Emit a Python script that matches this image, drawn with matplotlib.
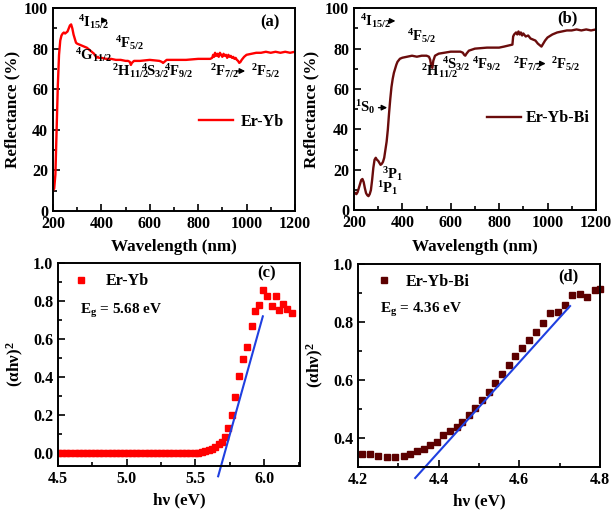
import matplotlib
matplotlib.use('Agg')
import matplotlib.pyplot as plt
from matplotlib.ticker import MultipleLocator, FormatStrFormatter

plt.rcParams['font.family'] = ['Liberation Serif', 'DejaVu Serif']
plt.rcParams['font.weight'] = 'bold'
plt.rcParams['mathtext.fontset'] = 'custom'
plt.rcParams['mathtext.rm'] = 'Liberation Serif:bold'
plt.rcParams['mathtext.it'] = 'Liberation Serif:bold'
plt.rcParams['mathtext.bf'] = 'Liberation Serif:bold'

# reflectance spectra (a) Er-Yb
wl_a = [200, 205, 210, 215, 220, 225, 230, 235, 240, 245, 250, 255, 260, 265, 270, 275, 280,
        285, 290, 295, 300, 310, 320, 330, 340, 350, 360, 370, 375, 380, 385, 390, 400, 420,
        440, 460, 480, 500, 510, 518, 522, 526, 535, 560, 600, 640, 650, 655, 660, 670, 700,
        750, 800, 850, 858, 862, 866, 870, 875, 880, 885, 890, 895, 900, 905, 910, 915, 920,
        925, 930, 935, 940, 945, 950, 955, 960, 965, 970, 975, 980, 990, 1000, 1020, 1040,
        1060, 1080, 1100, 1120, 1140, 1160, 1180, 1200]
refl_a = [10, 11, 18, 40, 62, 77, 84, 86.5, 87.5, 88, 87.5, 88, 88.5, 90, 91.5, 92, 90,
          87, 85, 83, 82.5, 82, 81.5, 81, 80.5, 79.5, 78.5, 77.5, 76.5, 75.5, 76, 75.5, 75.5, 75,
          75, 74.5, 74.5, 74, 74, 73.5, 72, 73, 74, 74, 74.5, 74, 73.5, 73, 73.5, 74.5, 74.5,
          74.5, 75, 75, 75.5, 77, 76, 78, 76.5, 77.5, 76, 78, 77, 76, 77.5, 76.5, 77, 75.5,
          77, 76, 76.5, 75.5, 76, 75, 75.5, 74.5, 74, 73, 73.5, 74.5, 76, 77, 77.5, 78,
          78, 78.5, 78, 78.5, 78, 78.5, 78, 78.5]

# reflectance spectra (b) Er-Yb-Bi
wl_b = [200, 205, 210, 215, 220, 225, 230, 235, 240, 245, 250, 255, 260, 265, 270, 275, 280,
        285, 290, 295, 300, 305, 310, 315, 320, 325, 330, 335, 340, 345, 350, 355, 360, 365,
        370, 375, 380, 390, 400, 420, 440, 460, 480, 500, 510, 515, 520, 524, 528, 535, 550,
        575, 600, 640, 650, 655, 660, 665, 675, 700, 750, 800, 820, 855, 858, 862, 870, 875,
        880, 885, 890, 895, 900, 910, 920, 930, 940, 950, 960, 970, 975, 980, 990, 1000,
        1020, 1040, 1060, 1080, 1100, 1120, 1140, 1160, 1180, 1200]
refl_b = [9, 8.5, 8, 9, 11, 13, 15, 15.5, 14, 11, 8.5, 7.5, 7, 8, 10, 15, 21,
          25, 26, 25, 24.5, 23.5, 22.5, 23, 24, 26, 30, 34, 40, 48, 55, 61, 65, 68,
          70, 72, 73.5, 75, 75.5, 76, 76.5, 76, 76.5, 76.5, 76, 74.5, 71, 70.5, 74, 76.5, 77.5,
          78, 78.5, 78.5, 78, 77, 76.5, 77.5, 79, 80, 80.5, 80.5, 81, 82, 86, 87, 88, 87,
          88.5, 87, 88, 86.5, 87.5, 86, 86.5, 85, 84.5, 84, 82.5, 81.5, 81, 82, 84, 85.5,
          87, 88, 88.5, 89, 89, 89.5, 89, 89.5, 89, 89.5]

# Tauc plot (c) Er-Yb
hv_c = [4.50, 4.53, 4.56, 4.59, 4.62, 4.65, 4.68, 4.71, 4.74, 4.77, 4.80, 4.83, 4.86, 4.89,
        4.92, 4.95, 4.98, 5.01, 5.04, 5.07, 5.10, 5.13, 5.16, 5.19, 5.22, 5.25, 5.28, 5.31,
        5.34, 5.37, 5.40, 5.43, 5.46, 5.495, 5.52, 5.545, 5.57, 5.595, 5.62, 5.645, 5.668,
        5.69, 5.715, 5.74, 5.765, 5.79, 5.82, 5.848, 5.877, 5.909, 5.933, 5.964, 5.993,
        6.022, 6.054, 6.083, 6.109, 6.138, 6.168, 6.200]
ahv_c = [0, 0, 0, 0, 0, 0, 0, 0, 0, 0, 0, 0, 0, 0,
         0, 0, 0, 0, 0, 0, 0, 0, 0, 0, 0, 0, 0, 0,
         0, 0, 0.001, 0.001, 0.002, 0.003, 0.004, 0.007, 0.011, 0.017, 0.025, 0.035, 0.047,
         0.062, 0.088, 0.135, 0.20, 0.295, 0.407, 0.494, 0.559, 0.668, 0.748, 0.778, 0.860,
         0.826, 0.774, 0.826, 0.755, 0.787, 0.760, 0.739]
fit_c_x = [5.665, 5.99]
fit_c_y = [-0.12, 0.72]

# Tauc plot (d) Er-Yb-Bi
hv_d = [4.209, 4.23, 4.25, 4.271, 4.292, 4.313, 4.33, 4.346, 4.363, 4.379, 4.396, 4.412,
        4.429, 4.446, 4.458, 4.475, 4.491, 4.507, 4.524, 4.54, 4.557, 4.574, 4.59, 4.606,
        4.625, 4.642, 4.66, 4.677, 4.695, 4.714, 4.731, 4.75, 4.768, 4.789, 4.80]
ahv_d = [0.346, 0.344, 0.337, 0.335, 0.335, 0.337, 0.344, 0.354, 0.363, 0.375, 0.386, 0.409,
         0.424, 0.438, 0.455, 0.478, 0.505, 0.530, 0.560, 0.588, 0.619, 0.651, 0.682, 0.709,
         0.738, 0.766, 0.795, 0.830, 0.833, 0.858, 0.893, 0.896, 0.887, 0.909, 0.915]
fit_d_x = [4.342, 4.726]
fit_d_y = [0.262, 0.855]

RED = '#ff0000'
MAROON = '#6a0c0c'
SQ_D = '#5c0000'
BLUE = '#1f3fe0'

fig = plt.figure(figsize=(6.14, 5.13), dpi=100)
ax_a = fig.add_axes([0.0863, 0.589, 0.394, 0.395])
ax_b = fig.add_axes([0.5765, 0.590, 0.394, 0.394])
ax_c = fig.add_axes([0.0945, 0.0916, 0.394, 0.3957])
ax_d = fig.add_axes([0.583, 0.0897, 0.394, 0.3957])

TICK = 11.5
LAB = 12.3
ANN = 10.5
LEG = 11.5
ARROW = dict(arrowstyle='-|>', color='black', lw=1, mutation_scale=8)


def style(ax):
    for s in ax.spines.values():
        s.set_linewidth(1.4)
    ax.tick_params(which='both', direction='in', labelsize=TICK, width=1.2)
    ax.tick_params(which='major', length=5)
    ax.tick_params(which='minor', length=3)
    for lab in ax.get_xticklabels() + ax.get_yticklabels():
        lab.set_fontweight('bold')


# ---- (a)
ax_a.plot(wl_a, refl_a, color=RED, lw=1.7, label='Er-Yb')
ax_a.set_xlim(200, 1200)
ax_a.set_ylim(0, 100)
ax_a.xaxis.set_major_locator(MultipleLocator(200))
ax_a.xaxis.set_minor_locator(MultipleLocator(100))
ax_a.yaxis.set_major_locator(MultipleLocator(20))
ax_a.yaxis.set_minor_locator(MultipleLocator(10))
ax_a.set_xlabel('Wavelength (nm)', fontsize=LAB, fontweight='bold', labelpad=5.5)
ax_a.set_ylabel('Reflectance (%)', fontsize=LAB, fontweight='bold', labelpad=2.5)
style(ax_a)
ax_a.legend(loc='center left', bbox_to_anchor=(0.605, 0.44), frameon=False, fontsize=LEG,
            handlelength=2.1, handletextpad=0.5, borderpad=0, borderaxespad=0)
ann_a = [(303, 91, r'$^4\mathrm{I}_{15/2}$'), (293, 74.7, r'$^4\mathrm{G}_{11/2}$'),
         (456, 80.5, r'$^4\mathrm{F}_{5/2}$'), (445, 66.5, r'$^2\mathrm{H}_{11/2}$'),
         (562, 66.5, r'$^4\mathrm{S}_{3/2}$'), (658, 66.5, r'$^4\mathrm{F}_{9/2}$'),
         (849, 66.5, r'$^2\mathrm{F}_{7/2}$'), (1017, 66.5, r'$^2\mathrm{F}_{5/2}$')]
for x, y, t in ann_a:
    ax_a.text(x, y, t, fontsize=ANN, va='baseline', ha='left')
ax_a.annotate('', xy=(438, 94), xytext=(396, 94), arrowprops=ARROW)
ax_a.annotate('', xy=(1006, 69), xytext=(946, 69), arrowprops=ARROW)
ax_a.text(1097, 93, '(a)', fontsize=12, fontweight='bold', ha='center', va='center')

# ---- (b)
ax_b.plot(wl_b, refl_b, color=MAROON, lw=1.7, label='Er-Yb-Bi')
ax_b.set_xlim(200, 1200)
ax_b.set_ylim(0, 100)
ax_b.xaxis.set_major_locator(MultipleLocator(200))
ax_b.xaxis.set_minor_locator(MultipleLocator(100))
ax_b.yaxis.set_major_locator(MultipleLocator(20))
ax_b.yaxis.set_minor_locator(MultipleLocator(10))
ax_b.set_xlabel('Wavelength (nm)', fontsize=LAB, fontweight='bold', labelpad=5.5)
ax_b.set_ylabel('Reflectance (%)', fontsize=LAB, fontweight='bold', labelpad=4)
style(ax_b)
ax_b.legend(loc='center left', bbox_to_anchor=(0.55, 0.455), frameon=False, fontsize=LEG,
            handlelength=2.1, handletextpad=0.3, borderpad=0, borderaxespad=0)
ann_b = [(225, 91, r'$^4\mathrm{I}_{15/2}$'), (420, 84, r'$^4\mathrm{F}_{5/2}$'),
         (479, 66.3, r'$^2\mathrm{H}_{11/2}$'), (565, 70, r'$^4\mathrm{S}_{3/2}$'),
         (686, 70, r'$^4\mathrm{F}_{9/2}$'), (857, 70, r'$^2\mathrm{F}_{7/2}$'),
         (1016, 70, r'$^2\mathrm{F}_{5/2}$'), (204, 48.7, r'$^1\mathrm{S}_0$'),
         (314, 15.7, r'$^3\mathrm{P}_1$'), (296, 8.6, r'$^1\mathrm{P}_1$')]
for x, y, t in ann_b:
    ax_b.text(x, y, t, fontsize=ANN, va='baseline', ha='left')
ax_b.annotate('', xy=(383, 93.7), xytext=(330, 93.7), arrowprops=ARROW)
ax_b.annotate('', xy=(1004, 72.6), xytext=(944, 72.6), arrowprops=ARROW)
ax_b.annotate('', xy=(349, 50.8), xytext=(290, 50.8), arrowprops=ARROW)
ax_b.text(1084, 95, '(b)', fontsize=12, fontweight='bold', ha='center', va='center')

# ---- (c)
ax_c.plot(hv_c, ahv_c, 's', color=RED, ms=4.5, mec=RED, label='Er-Yb')
ax_c.plot(fit_c_x, fit_c_y, color=BLUE, lw=1.5, clip_on=False)
ax_c.set_xlim(4.5, 6.26)
ax_c.set_ylim(-0.066, 1.0)
ax_c.xaxis.set_major_locator(MultipleLocator(0.5))
ax_c.xaxis.set_minor_locator(MultipleLocator(0.25))
ax_c.yaxis.set_major_locator(MultipleLocator(0.2))
ax_c.yaxis.set_minor_locator(MultipleLocator(0.1))
ax_c.xaxis.set_major_formatter(FormatStrFormatter('%.1f'))
ax_c.yaxis.set_major_formatter(FormatStrFormatter('%.1f'))
ax_c.set_xlabel('h\u03bd (eV)', fontsize=LAB, fontweight='bold', labelpad=4)
ax_c.set_ylabel('(\u03b1h\u03bd)$^2$', fontsize=LAB, fontweight='bold', labelpad=5)
style(ax_c)
ax_c.legend(loc='center left', bbox_to_anchor=(0.07, (0.905 + 0.066) / 1.066), frameon=False,
            fontsize=LEG, handlelength=0.8, handletextpad=1.1, borderpad=0, borderaxespad=0,
            numpoints=1)
ax_c.text(4.66, 0.75, 'E$_\\mathrm{g}$ = 5.68 eV', fontsize=11, fontweight='bold',
          va='center', ha='left')
ax_c.text(6.018, 0.944, '(c)', fontsize=12, fontweight='bold', ha='center', va='center')

# ---- (d)
ax_d.plot(hv_d, ahv_d, 's', color=SQ_D, ms=4.8, mec=SQ_D, label='Er-Yb-Bi', clip_on=False)
ax_d.plot(fit_d_x, fit_d_y, color=BLUE, lw=1.5, clip_on=False)
ax_d.set_xlim(4.2, 4.8)
ax_d.set_ylim(0.3, 1.0)
ax_d.xaxis.set_major_locator(MultipleLocator(0.2))
ax_d.xaxis.set_minor_locator(MultipleLocator(0.1))
ax_d.yaxis.set_major_locator(MultipleLocator(0.2))
ax_d.yaxis.set_minor_locator(MultipleLocator(0.1))
ax_d.xaxis.set_major_formatter(FormatStrFormatter('%.1f'))
ax_d.yaxis.set_major_formatter(FormatStrFormatter('%.1f'))
ax_d.set_xlabel('h\u03bd (eV)', fontsize=LAB, fontweight='bold', labelpad=4)
ax_d.set_ylabel('(\u03b1h\u03bd)$^2$', fontsize=LAB, fontweight='bold', labelpad=5)
style(ax_d)
ax_d.legend(loc='center left', bbox_to_anchor=(0.08, (0.939 - 0.3) / 0.7), frameon=False,
            fontsize=LEG, handlelength=0.8, handletextpad=1.0, borderpad=0, borderaxespad=0,
            numpoints=1)
ax_d.text(4.255, 0.841, 'E$_\\mathrm{g}$ = 4.36 eV', fontsize=11, fontweight='bold',
          va='center', ha='left')
ax_d.text(4.723, 0.956, '(d)', fontsize=12, fontweight='bold', ha='center', va='center')

fig.savefig('out.png', dpi=100)
